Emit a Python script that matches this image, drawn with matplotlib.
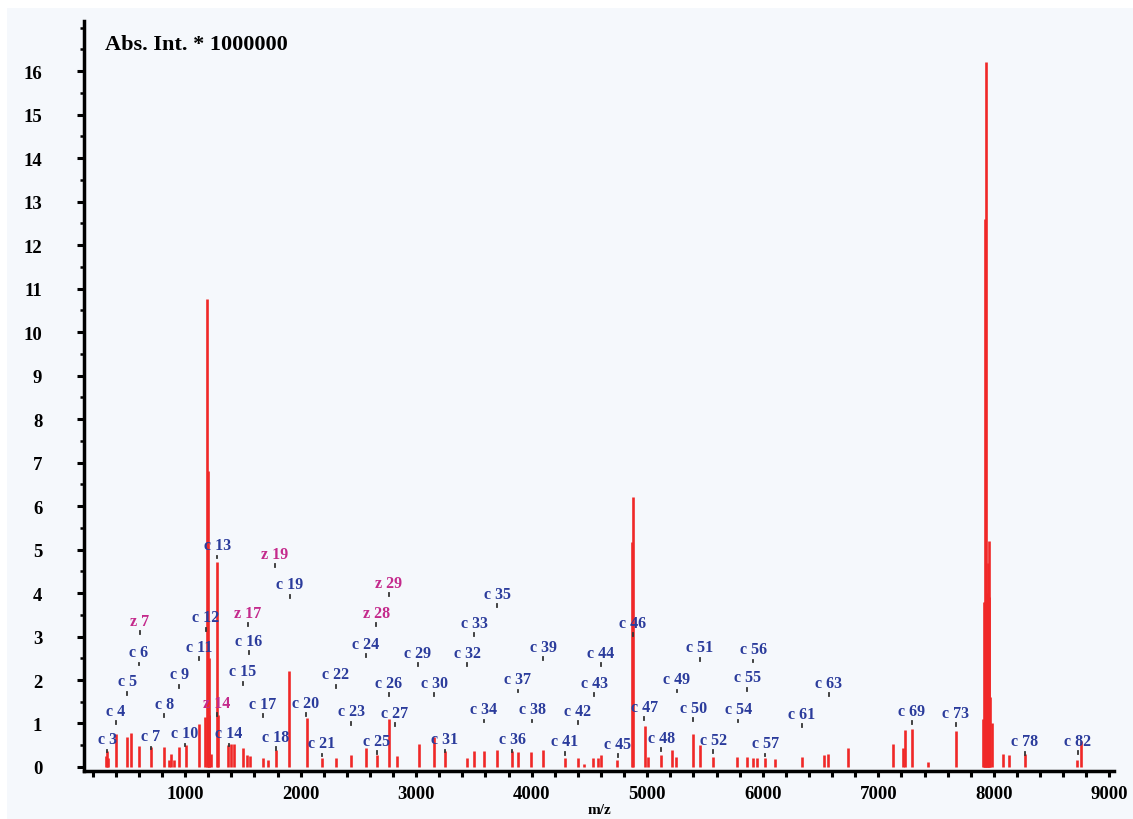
import matplotlib
matplotlib.use('Agg')
import matplotlib.pyplot as plt
from matplotlib.patches import Rectangle
from matplotlib.ticker import MultipleLocator
import numpy as np

#==============================================================================
# Spectrum peaks (m/z, intensity in units of 1e6)
#==============================================================================

peak_mz = [318, 327, 335, 400, 500, 530, 601, 703, 818, 860, 878, 900, 948, 1006,
           1121, 1170, 1193, 1198, 1203, 1210, 1222, 1274, 1285, 1372, 1395, 1424, 1504,
           1539, 1560, 1675, 1720, 1785, 1900, 2053, 2183, 2306, 2436, 2566, 2659,
           2768, 2832, 3025, 3154, 3252, 3437, 3501, 3587, 3697, 3827, 3884, 3997,
           4100, 4288, 4403, 4453, 4533, 4576, 4597, 4741, 4870, 4879, 4981, 5009,
           5119, 5212, 5249, 5399, 5456, 5572, 5779, 5861, 5918, 5947, 6019, 6106,
           6337, 6530, 6567, 6735, 7129, 7216, 7231, 7289, 7427, 7672,
           7908, 7915, 7920, 7925, 7931, 7937, 7943, 7950, 7956, 7962, 7970, 7980,
           8081, 8133, 8269, 8717, 8754]
peak_int = [0.25, 0.37, 0.2, 0.76, 0.69, 0.78, 0.49, 0.46, 0.46, 0.15, 0.3, 0.15, 0.46, 0.5,
            0.99, 1.15, 10.75, 6.8, 2.5, 1.2, 0.3, 4.71, 1.2, 0.5, 0.53, 0.53, 0.43,
            0.28, 0.26, 0.2, 0.15, 0.4, 2.2, 1.12, 0.2, 0.2, 0.28, 0.43, 0.28,
            1.1, 0.25, 0.53, 0.68, 0.37, 0.2, 0.37, 0.37, 0.4, 0.37, 0.35, 0.35,
            0.4, 0.2, 0.2, 0.08, 0.2, 0.21, 0.28, 0.15, 5.17, 6.2, 0.95, 0.23,
            0.28, 0.38, 0.23, 0.76, 0.51, 0.23, 0.23, 0.23, 0.21, 0.2, 0.2, 0.18,
            0.23, 0.28, 0.31, 0.43, 0.53, 0.43, 0.85, 0.87, 0.11, 0.83,
            1.1, 3.8, 3.8, 12.6, 16.2, 4.0, 3.8, 4.7, 3.9, 5.2, 1.6, 1.0,
            0.3, 0.28, 0.3, 0.15, 0.6]

# fragment ion labels: name, m/z and height of the marker under the label
label_names = ['c 3', 'c 4', 'c 5', 'c 6', 'z 7', 'c 7', 'c 8', 'c 9', 'c 10', 'c 11',
               'c 12', 'c 13', 'z 14', 'c 14', 'c 15', 'c 16', 'z 17', 'c 17', 'c 18',
               'z 19', 'c 19', 'c 20', 'c 21', 'c 22', 'c 23', 'c 24', 'c 25', 'c 26',
               'c 27', 'z 28', 'z 29', 'c 29', 'c 30', 'c 31', 'c 32', 'c 33', 'c 34',
               'c 35', 'c 36', 'c 37', 'c 38', 'c 39', 'c 41', 'c 42', 'c 43', 'c 44',
               'c 45', 'c 46', 'c 47', 'c 48', 'c 49', 'c 50', 'c 51', 'c 52', 'c 54',
               'c 55', 'c 56', 'c 57', 'c 61', 'c 63', 'c 69', 'c 73', 'c 78', 'c 82']
label_mz = [325, 402, 498, 601, 610, 705, 818, 948, 1000, 1121,
            1181, 1277, 1277, 1380, 1502, 1554, 1545, 1675, 1787,
            1778, 1908, 2047, 2185, 2306, 2436, 2566, 2661, 2765,
            2817, 2653, 2765, 3016, 3155, 3250, 3440, 3501, 3587,
            3700, 3830, 3881, 4003, 4098, 4288, 4401, 4540, 4600,
            4747, 4877, 4973, 5120, 5258, 5397, 5457, 5570, 5787,
            5865, 5917, 6021, 6339, 6573, 7291, 7672, 8269, 8727]
label_int = [0.34, 0.99, 1.66, 2.34, 3.06, 0.41, 1.15, 1.82, 0.48, 2.46,
             3.13, 4.80, 1.17, 0.48, 1.89, 2.60, 3.24, 1.15, 0.39,
             4.60, 3.89, 1.17, 0.25, 1.82, 0.97, 2.53, 0.30, 1.63,
             0.94, 3.24, 3.93, 2.32, 1.63, 0.34, 2.32, 3.01, 1.03,
             3.68, 0.34, 1.72, 1.03, 2.46, 0.28, 0.99, 1.63, 2.32,
             0.23, 3.01, 1.08, 0.37, 1.72, 1.06, 2.44, 0.32, 1.03,
             1.75, 2.41, 0.25, 0.92, 1.63, 0.99, 0.94, 0.28, 0.30]

bg = '#f5f8fc'
blue = '#2b3c9c'
magenta = '#c42a8c'
serif = ['Liberation Serif', 'DejaVu Serif']

fig = plt.figure(figsize=(11.33, 8.2), dpi=100, facecolor='white')
fig.patches.append(Rectangle((7 / 1133, 0), 1, 811 / 820, transform=fig.transFigure,
                             facecolor=bg, edgecolor='none', zorder=-10))
ax = fig.add_axes([84 / 1133, 48 / 820, 1030 / 1133, 750 / 820])
ax.set_facecolor(bg)

ax.vlines(peak_mz, 0, peak_int, colors='#f02828', linewidth=1.9, zorder=2)

for name, mz, h in zip(label_names, label_mz, label_int):
    col = magenta if name.startswith('z') else blue
    ax.plot([mz, mz], [h, h + 0.06], color='#333333', linewidth=1.3, zorder=3)
    ax.annotate(name, xy=(mz, h + 0.06), xytext=(0, 2), textcoords='offset points',
                ha='center', va='bottom', color=col, fontsize=11.5,
                fontweight='bold', family=serif, zorder=4)

ax.set_xlim(125, 9040)
ax.set_ylim(-0.092, 17.15)

for s in ['top', 'right']:
    ax.spines[s].set_visible(False)
for s in ['left', 'bottom']:
    ax.spines[s].set_linewidth(2.5)

ax.xaxis.set_minor_locator(MultipleLocator(200))
ax.yaxis.set_minor_locator(MultipleLocator(0.5))
ax.set_xticks(np.arange(1000, 9001, 1000))
ax.set_yticks(np.arange(0, 17, 1))
ax.tick_params(axis='x', which='both', direction='out', length=4, width=2.2, pad=6,
               labelsize=13.5)
ax.tick_params(axis='y', which='major', direction='out', length=5, width=2.2, pad=25,
               labelsize=13.5)
ax.tick_params(axis='y', which='minor', direction='out', length=3, width=1.8)
for lab in ax.get_xticklabels() + ax.get_yticklabels():
    lab.set_fontweight('bold')
    lab.set_family(serif)

ax.set_xlabel('m/z', fontsize=11, fontweight='bold', family=serif, labelpad=1)
ax.text(0.0204, 0.969, 'Abs. Int. * 1000000', transform=ax.transAxes, ha='left',
        va='center', fontsize=16, fontweight='bold', family=serif)

fig.savefig('out.png', dpi=100, facecolor=fig.get_facecolor())
